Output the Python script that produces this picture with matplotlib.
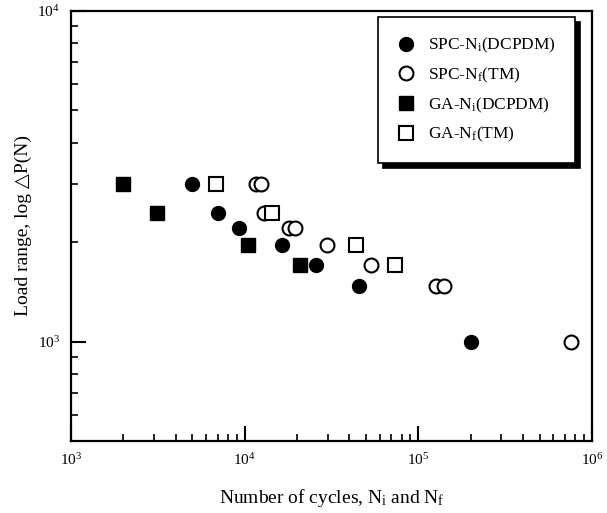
import matplotlib
matplotlib.use("Agg")
import matplotlib.pyplot as plt
from matplotlib.ticker import LogLocator, NullFormatter

plt.rcParams['font.family'] = ['Liberation Serif', 'DejaVu Serif']
plt.rcParams['mathtext.fontset'] = 'custom'
plt.rcParams['mathtext.rm'] = 'Liberation Serif'
plt.rcParams['mathtext.it'] = 'Liberation Serif'

# SPC, crack initiation (DCPDM)
spc_ni_cycles = [5.0e3, 7.0e3, 9.3e3, 16.3e3, 25.6e3, 45.5e3, 2.02e5]
spc_ni_load = [3000, 2450, 2200, 1960, 1700, 1470, 1000]

# SPC, failure (TM)
spc_nf_cycles = [11.6e3, 12.5e3, 13.0e3, 18.0e3, 19.6e3, 29.6e3, 53.7e3, 1.27e5, 1.41e5, 7.57e5]
spc_nf_load = [3000, 3000, 2450, 2200, 2200, 1960, 1700, 1470, 1470, 1000]

# GA, crack initiation (DCPDM)
ga_ni_cycles = [1.99e3, 3.12e3, 10.4e3, 20.7e3]
ga_ni_load = [3000, 2450, 1960, 1700]

# GA, failure (TM)
ga_nf_cycles = [6.8e3, 14.3e3, 44.0e3, 73.8e3]
ga_nf_load = [3000, 2450, 1960, 1700]

fig = plt.figure(figsize=(6.07, 5.13), dpi=100)
ax = fig.add_axes([71/607, 1 - 441/513, 521/607, 430/513])

ms = 10
ax.plot(spc_ni_cycles, spc_ni_load, 'o', ms=ms, mfc='black', mec='black',
        label='SPC-N$_\\mathrm{i}$(DCPDM)')
ax.plot(spc_nf_cycles, spc_nf_load, 'o', ms=ms, mfc='white', mec='black', mew=1.5,
        label='SPC-N$_\\mathrm{f}$(TM)')
ax.plot(ga_ni_cycles, ga_ni_load, 's', ms=ms, mfc='black', mec='black',
        label='GA-N$_\\mathrm{i}$(DCPDM)')
ax.plot(ga_nf_cycles, ga_nf_load, 's', ms=ms, mfc='white', mec='black', mew=1.5,
        label='GA-N$_\\mathrm{f}$(TM)')

ax.set_xscale('log')
ax.set_yscale('log')
ax.set_xlim(1e3, 1e6)
ax.set_ylim(500, 1e4)

ax.xaxis.set_major_locator(LogLocator(base=10))
ax.yaxis.set_major_locator(LogLocator(base=10))
ax.xaxis.set_minor_locator(LogLocator(base=10, subs=range(2, 10)))
ax.yaxis.set_minor_locator(LogLocator(base=10, subs=range(2, 10)))
ax.xaxis.set_minor_formatter(NullFormatter())
ax.yaxis.set_minor_formatter(NullFormatter())

ax.tick_params(which='both', direction='in', top=False, right=False, labelsize=11)
ax.tick_params(which='major', length=11, width=1.5, pad=8)
ax.tick_params(which='minor', length=5, width=1.2)
for sp in ax.spines.values():
    sp.set_linewidth(1.6)

ax.set_xlabel('Number of cycles, N$_\\mathrm{i}$ and N$_\\mathrm{f}$', fontsize=14, labelpad=14)
ax.set_ylabel('Load range, log \u25b3P(N)', fontsize=14, labelpad=4)

leg = ax.legend(loc='upper right', bbox_to_anchor=(0.968, 0.986), borderaxespad=0,
                fontsize=12.5, frameon=True, fancybox=False, edgecolor='black',
                labelspacing=0.6, handletextpad=0.8, handlelength=1.0, borderpad=1.1,
                shadow={'ox': 3.5, 'oy': -3.5, 'facecolor': 'black', 'edgecolor': 'black', 'alpha': 1})
leg.get_frame().set_linewidth(1.2)

fig.savefig('out.png', dpi=100)
